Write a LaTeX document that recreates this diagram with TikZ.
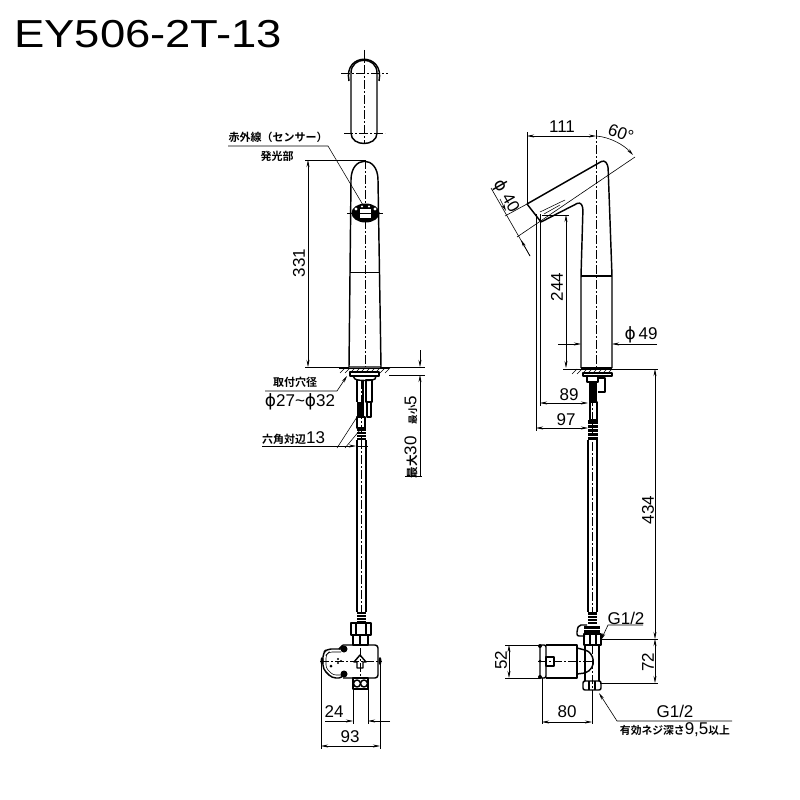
\documentclass[tikz,border=0pt]{standalone}
\usepackage{graphicx}
\usepackage{fontspec}
\setmainfont{Liberation Sans}
\newfontfamily\jpfont{Noto Sans CJK JP}[BoldFont=* Bold]
\newfontfamily\symfont{DejaVu Sans}
\usetikzlibrary{arrows.meta,positioning,calc}
\newcommand{\dia}{{\symfont ϕ}}
\newcommand{\jpsize}[2]{{\jpfont\bfseries\fontsize{#1}{#1}\selectfont #2}}

\begin{document}
\begin{tikzpicture}[
    x=1pt,
    y=-1pt,
    >={Stealth[length=7pt,width=3pt]},
    outline/.style={draw,line width=1.45pt,line join=round},
    thinline/.style={draw,line width=0.55pt},
    dimline/.style={draw,line width=0.6pt},
    centerline/.style={draw,line width=0.5pt,dash pattern=on 9pt off 2pt on 2pt off 2pt},
    dimtext/.style={font=\fontsize{17}{17}\selectfont,inner sep=0pt},
    jptext/.style={font=\fontsize{11}{11}\selectfont\jpfont\bfseries,inner sep=0pt}
]
\useasboundingbox (0,0) rectangle (800,800);

% ---------------- Title ----------------
\node[anchor=west,inner sep=0pt,font=\fontsize{39}{39}\selectfont] (title) at (14,34) {\scalebox{1.165}[1]{EY506-2T-13}};

% ---------------- Left view, spout from above ----------------
\draw[outline] (351,73) .. controls (351,56) and (377,56) .. (377,73) -- (377,133)
    .. controls (377,147) and (351,147) .. (351,133) -- cycle;
\draw[outline] (349,81) .. controls (343,52) and (385,52) .. (379,81);
\draw[centerline] (364,50) -- (364,143);
\draw[centerline] (341,73) -- (388,73);
\draw[centerline] (344,133) -- (385,133);

% ---------------- Left view, body ----------------
\draw[outline] (349,367) -- (351,180) .. controls (351,155) and (378,155) .. (378,180) -- (381,367) -- cycle;
\draw[thinline] (350,272) -- (380,272);
\draw[centerline] (365,160) -- (365,367);
\draw[centerline] (347,213) -- (383,213);
\fill (365.5,213) ellipse (14 and 9.5);
\fill[white] (360,209) rectangle (371,218);
\draw[thinline] (360,213) -- (371,213);
\foreach \xa in {356,375} {\fill[white] (\xa,209) circle (1.6);}
\foreach \xa in {362,369} {\fill[white] (\xa,206.5) circle (1.1);}

% ---------------- Left view, floor and fittings ----------------
\draw[thinline] (339,368) -- (389,368);
\foreach \xa in {340,345,...,385} {\draw[thinline] (\xa,373) -- (\xa+5,368);}
\draw[outline] (350,372) rectangle (379,376);
\draw[outline] (353,376) -- (355,379) .. controls (358,381) and (372,381) .. (375,379) -- (376,376);
\draw[outline] (357,380) -- (357,402);
\draw[outline] (363,380) -- (363,402);
\draw[outline] (366,380) rectangle (372,402);
\draw[outline] (367,402) rectangle (371,417);
\fill (357,402) rectangle (364,417);
\draw[outline] (357,417) rectangle (365,428);
\fill (357,428) rectangle (366,440);
\foreach \ya in {431,434,437} {\draw[thinline,white] (357,\ya) -- (366,\ya);}
\draw[outline] (357,440) -- (357,612);
\draw[outline] (366,440) -- (366,612);
\draw[centerline] (361.5,380) -- (361.5,612);

% ---------------- Left view, box ----------------
\fill (357,612) rectangle (366,623);
\foreach \ya in {614,617,620} {\draw[thinline,white] (357,\ya) -- (366,\ya);}
\draw[outline] (351,623) rectangle (371,635);
\draw[outline] (356,623) -- (356,635);
\draw[outline] (366,623) -- (366,635);
\draw[outline] (353,635) rectangle (368,645);
\draw[outline] (360,635) -- (360,645);
\draw[outline,rounded corners=3pt] (343,645) -- (378,645) -- (378,678) -- (343,678);
\draw[outline,rounded corners=4pt] (343,649) -- (327,649) -- (323,653) -- (323,669) -- (332,678) -- (343,678) -- (343,672);
\draw[outline] (343,645) -- (339,649);
\draw[thinline,rounded corners=3pt] (341,652) -- (329,652) -- (326,655) -- (326,668) -- (333,675) -- (341,675);
\draw[centerline] (320,661) -- (382,661);
\draw[centerline] (360,648) -- (360,676);
\draw[outline] (360,655) -- (366,662) -- (363,662) -- (363,668) -- (357,668) -- (357,662) -- (354,662) -- cycle;
\fill (344,649) circle (3.5);
\fill (344,674) circle (3.5);
\fill (331,666) circle (1.5);
\fill (338,659) circle (1.2);
\fill (338,663) circle (1.2);
\fill (341,661) circle (1.2);
\fill (322,661) ellipse (1.5 and 4);
\fill (380,661) ellipse (1.5 and 4);
\draw[outline] (353,678) rectangle (368,689);
\draw[outline] (357,683.5) circle (3.5);
\draw[outline] (364,683.5) circle (3.5);

% ---------------- Left view, annotations ----------------
\node[jptext] (irlabel) at (278,137) {赤外線（センサー）};
\node[jptext] (emitlabel) at (277,156) {発光部};
\draw[thinline] (228,146) -- (328,146) -- (363,205);

\draw[dimline] (305,160) -- (365,160);
\draw[dimline] (305,367) -- (349,367);
\draw[dimline,<->] (308,160) -- (308,367);
\node[dimtext,rotate=90] (dimheight) at (299,263) {331};

\node[jptext] (holelabel) at (295,382) {取付穴径};
\node[dimtext] (holesize) at (300,402) {\dia27\textasciitilde\dia32};
\draw[dimline,->] (265,391) -- (337,391) -- (347,376);

\node[dimtext,anchor=west] (hexlabel) at (262,438) {\jpsize{11}{六角対辺}13};
\draw[dimline,->] (262,446) -- (356,446);
\draw[dimline] (357,446) -- (368,446);
\draw[thinline] (337,448) -- (357,417);
\draw[thinline] (345,448) -- (360,430);

\draw[dimline] (380,367) -- (425,367);
\draw[dimline] (389,375) -- (425,375);
\draw[dimline,->] (420,350) -- (420,367);
\draw[dimline,->] (420,476) -- (420,375);
\draw[dimline] (405,476) -- (422,476);
\node[dimtext,rotate=90] (dimdepth) at (411,437) {\jpsize{11.5}{最大}30\hspace{12pt}\jpsize{9.5}{最小}5};

\draw[dimline] (353,689) -- (353,724);
\draw[dimline] (368,689) -- (368,724);
\draw[dimline,->] (325,721) -- (353,721);
\draw[dimline,->] (390,721) -- (368,721);
\node[dimtext] (dimnut) at (334,712) {24};
\draw[dimline] (321,661) -- (321,749);
\draw[dimline] (380,661) -- (380,749);
\draw[dimline,<->] (321,746) -- (380,746);
\node[dimtext] (dimbox) at (350,737) {93};

% ---------------- Right view, spout and body ----------------
\draw[outline,rounded corners=3pt] (527,204) -- (604,160) -- (608,165) -- (612,276) -- (612,368);
\draw[outline] (527,204) -- (541,222);
\draw[outline,rounded corners=3pt] (541,222) -- (580,202) -- (583,207) -- (581,276) -- (581,368);
\draw[outline] (581,276) -- (612,276);
\draw[outline] (581,368) -- (612,368);
\draw[centerline] (596,130) -- (596,368);
\draw[thinline] (540,212) -- (565,200);
\draw[thinline] (544,214) -- (560,205);

% ---------------- Right view, floor and fittings ----------------
\draw[thinline] (563,369) -- (658,369);
\foreach \xa in {572,577,...,610} {\draw[thinline] (\xa,374) -- (\xa+5,369);}
\draw[outline] (583,373) rectangle (612,376);
\draw[outline] (587,376) rectangle (598,382);
\draw[outline] (598,378) -- (605,378) -- (605,392) -- (598,392);
\fill (589,382) rectangle (597,402);
\draw[outline] (590,402) rectangle (597,420);
\fill (588,420) rectangle (598,440);
\foreach \ya in {424,428,432,436} {\draw[thinline,white] (588,\ya) -- (598,\ya);}
\draw[outline] (588,440) -- (588,612);
\draw[outline] (597,440) -- (597,612);
\draw[centerline] (592.5,382) -- (592.5,612);

% ---------------- Right view, valve ----------------
\fill (588,612) rectangle (597,624);
\foreach \ya in {615,618,621} {\draw[thinline,white] (588,\ya) -- (597,\ya);}
\draw[outline,rounded corners=2pt] (587,625) -- (579,625) -- (577,630) -- (577,636) -- (585,636);
\fill (584,626) rectangle (600,633);
\draw[thinline,white] (584,629) -- (600,629);
\draw[outline] (584,634) rectangle (601,645);
\draw[outline] (590,634) -- (590,645);
\draw[outline] (596,634) -- (596,645);
\draw[outline] (585,645) -- (585,681);
\draw[outline] (599,645) -- (599,681);
\draw[outline,rounded corners=2pt] (583,681) rectangle (601,690);
\draw[outline] (589,681) -- (589,690);
\draw[outline] (595,681) -- (595,690);
\draw[outline] (546,645) -- (577,645) -- (577,678) -- (546,678);
\draw[outline] (577,648) -- (585,650);
\draw[outline] (577,674) -- (585,673);
\draw[outline,rounded corners=2pt] (540,645) rectangle (546,678);
\fill (540,646) circle (2);
\fill (540,677) circle (2);
\fill (540,661) circle (1.5);
\draw[outline] (546,657) rectangle (554,666);
\draw[outline] (585,650) .. controls (594,652) and (598,668) .. (585,673);
\draw[centerline] (538,661) -- (593,661);
\draw[centerline] (592.5,645) -- (592.5,690);

% ---------------- Right view, annotations ----------------
\draw[dimline] (527,132) -- (527,204);
\draw[dimline,<->] (527,136) -- (596,136);
\node[dimtext] (dimreach) at (562,127) {111};
\draw[dimline,->] (596,136) .. controls (610,137) and (624,145) .. (633,155);
\node[dimtext,rotate=-20] (dimangle) at (621,133) {60°};
\draw[dimline] (517,237) -- (635,157);
\draw[dimline] (505,216) -- (527,204);
\draw[dimline] (491,188) -- (530,256);
\draw[dimline,->] (500,199) -- (506,211);
\draw[dimline,->] (530,256) -- (521,240);
\node[dimtext,rotate=-60] (dimspout) at (506,196) {\dia\hspace{5pt}40};

\draw[dimline] (542,215) -- (569,215);
\draw[dimline,<->] (566,215) -- (566,368);
\node[dimtext,rotate=90] (dimrise) at (557,287) {244};
\draw[dimline] (540,214) -- (540,406);
\draw[dimline] (536,214) -- (536,431);
\draw[dimline,<->] (540,403) -- (588,403);
\draw[dimline,<->] (536,428) -- (588,428);
\node[dimtext] (dimaxisa) at (569,395) {89};
\node[dimtext] (dimaxisb) at (566,420) {97};

\draw[dimline,->] (558,344) -- (581,344);
\draw[dimline,->] (657,344) -- (612,344);
\node[dimtext] (dimbody) at (641,335) {\dia\,49};

\draw[dimline] (600,639) -- (658,639);
\draw[dimline] (600,683) -- (658,683);
\draw[dimline,<->] (655,369) -- (655,639);
\draw[dimline,<->] (655,639) -- (655,683);
\node[dimtext,rotate=90] (dimhose) at (648,510) {434};
\node[dimtext,rotate=90] (dimvalve) at (648,662) {72};

\node[dimtext] (threadtop) at (626,618) {G1/2};
\draw[dimline,->] (643,625) -- (608,625) -- (601,640);
\draw[dimline] (505,645) -- (540,645);
\draw[dimline] (505,678) -- (540,678);
\draw[dimline,<->] (509,645) -- (509,678);
\node[dimtext,rotate=90] (dimdia) at (501,660) {52};
\draw[dimline] (542,678) -- (542,724);
\draw[dimline] (592,690) -- (592,724);
\draw[dimline,<->] (542,722) -- (592,722);
\node[dimtext] (dimlen) at (567,712) {80};

\node[dimtext] (threadlow) at (675,711) {G1/2};
\draw[dimline,->] (732,721) -- (617,721) -- (599,693);
\node[dimtext] (threaddepth) at (675,730) {\jpsize{10.8}{有効ネジ深さ}9,5\jpsize{10.8}{以上}};

\end{tikzpicture}
\end{document}
